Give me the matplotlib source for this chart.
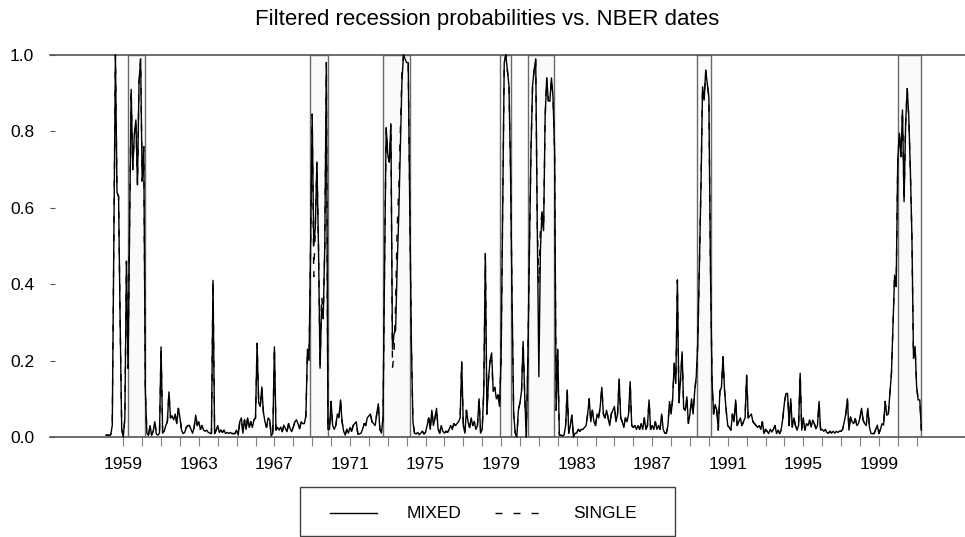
import numpy as np
import matplotlib
matplotlib.use("Agg")
import matplotlib.pyplot as plt
from matplotlib.lines import Line2D
from matplotlib.patches import Rectangle

plt.rcParams['font.family'] = ['Liberation Sans', 'DejaVu Sans']

nan = np.nan

# filtered recession probability, MIXED model, one row per year (Jan..Dec)
mixed_rows = [
    [nan, 0.005, 0.005, 0.004, 0.006, 0.03, 0.5, 1.0, 0.64, 0.63, 0.3, 0.02],                 # 1958
    [0.0, 0.05, 0.46, 0.18, 0.55, 0.91, 0.70, 0.79, 0.83, 0.66, 0.93, 0.99],
    [0.67, 0.76, 0.12, 0.01, 0.005, 0.03, 0.005, 0.015, 0.04, 0.008, 0.005, 0.01],
    [0.236, 0.01, 0.015, 0.03, 0.04, 0.118, 0.05, 0.055, 0.045, 0.06, 0.035, 0.075],
    [0.05, 0.018, 0.009, 0.012, 0.025, 0.03, 0.03, 0.02, 0.01, 0.025, 0.057, 0.03],
    [0.04, 0.02, 0.03, 0.018, 0.015, 0.018, 0.012, 0.01, 0.009, 0.41, 0.009, 0.018],
    [0.03, 0.012, 0.018, 0.012, 0.018, 0.009, 0.012, 0.009, 0.012, 0.009, 0.009, 0.009],
    [0.018, 0.005, 0.04, 0.05, 0.01, 0.045, 0.02, 0.05, 0.025, 0.04, 0.025, 0.045],
    [0.05, 0.245, 0.09, 0.08, 0.131, 0.065, 0.04, 0.025, 0.05, 0.045, 0.003, 0.01],
    [0.236, 0.018, 0.025, 0.018, 0.026, 0.014, 0.031, 0.022, 0.014, 0.035, 0.022, 0.014],
    [0.026, 0.04, 0.045, 0.035, 0.022, 0.04, 0.035, 0.035, 0.055, 0.23, 0.2, 0.5],          # 1968
    [0.845, 0.5, 0.55, 0.72, 0.5, 0.18, 0.34, 0.31, 0.5, 0.98, 0.02, 0.02],
    [0.093, 0.03, 0.02, 0.03, 0.06, 0.05, 0.097, 0.04, 0.015, 0.005, 0.02, 0.01],
    [0.025, 0.015, 0.03, 0.035, 0.04, 0.008, 0.008, 0.01, 0.02, 0.035, 0.03, 0.05],
    [0.055, 0.06, 0.04, 0.035, 0.03, 0.06, 0.087, 0.02, 0.01, 0.05, 0.45, 0.81],
    [0.74, 0.72, 0.82, 0.23, 0.27, 0.28, 0.45, 0.58, 0.75, 0.93, 1.0, 0.99],
    [0.98, 0.98, 0.6, 0.25, 0.04, 0.01, 0.008, 0.012, 0.006, 0.01, 0.015, 0.008],
    [0.012, 0.03, 0.05, 0.02, 0.07, 0.03, 0.05, 0.075, 0.02, 0.01, 0.03, 0.015],
    [0.01, 0.015, 0.012, 0.02, 0.03, 0.02, 0.035, 0.03, 0.035, 0.04, 0.05, 0.197],
    [0.03, 0.01, 0.07, 0.04, 0.025, 0.05, 0.03, 0.04, 0.02, 0.03, 0.1, 0.01],
    [0.02, 0.12, 0.48, 0.06, 0.15, 0.2, 0.22, 0.12, 0.13, 0.10, 0.11, 0.08],                # 1978
    [0.2, 0.6, 0.98, 1.0, 0.96, 0.92, 0.7, 0.35, 0.06, 0.01, 0.0, 0.07],
    [0.09, 0.12, 0.25, 0.11, 0.0, 0.2, 0.49, 0.75, 0.92, 0.96, 0.99, 0.55],
    [0.158, 0.49, 0.59, 0.54, 0.84, 0.94, 0.88, 0.88, 0.94, 0.89, 0.75, 0.07],
    [0.23, 0.005, 0.005, 0.003, 0.005, 0.03, 0.123, 0.01, 0.03, 0.057, 0.0, 0.01],
    [0.01, 0.02, 0.015, 0.02, 0.02, 0.025, 0.03, 0.06, 0.1, 0.04, 0.07, 0.04],
    [0.03, 0.06, 0.05, 0.08, 0.13, 0.06, 0.05, 0.07, 0.05, 0.03, 0.06, 0.07],
    [0.08, 0.04, 0.06, 0.152, 0.05, 0.04, 0.025, 0.05, 0.04, 0.06, 0.145, 0.03],
    [0.025, 0.03, 0.02, 0.03, 0.02, 0.035, 0.02, 0.05, 0.02, 0.03, 0.097, 0.02],
    [0.03, 0.02, 0.04, 0.02, 0.03, 0.02, 0.06, 0.02, 0.01, 0.01, 0.03, 0.093],
    [0.06, 0.1, 0.193, 0.14, 0.411, 0.09, 0.15, 0.223, 0.075, 0.07, 0.105, 0.036],         # 1988
    [0.06, 0.1, 0.06, 0.12, 0.158, 0.25, 0.45, 0.66, 0.917, 0.882, 0.96, 0.926],
    [0.89, 0.446, 0.15, 0.06, 0.085, 0.07, 0.018, 0.12, 0.13, 0.21, 0.12, 0.07],
    [0.03, 0.025, 0.018, 0.06, 0.04, 0.097, 0.03, 0.04, 0.05, 0.03, 0.04, 0.05],
    [0.162, 0.05, 0.055, 0.06, 0.04, 0.035, 0.03, 0.025, 0.03, 0.02, 0.04, 0.009],
    [0.02, 0.015, 0.009, 0.02, 0.013, 0.02, 0.03, 0.009, 0.018, 0.009, 0.02, 0.05],
    [0.09, 0.114, 0.114, 0.03, 0.1, 0.026, 0.05, 0.03, 0.018, 0.03, 0.167, 0.018],
    [0.05, 0.018, 0.035, 0.03, 0.044, 0.026, 0.044, 0.035, 0.022, 0.03, 0.093, 0.018],
    [0.02, 0.015, 0.02, 0.012, 0.01, 0.015, 0.01, 0.015, 0.01, 0.015, 0.012, 0.015],
    [0.015, 0.02, 0.04, 0.06, 0.1, 0.018, 0.053, 0.04, 0.035, 0.048, 0.03, 0.035],
    [0.05, 0.075, 0.044, 0.035, 0.03, 0.075, 0.026, 0.009, 0.009, 0.009, 0.02, 0.031],     # 1998
    [0.009, 0.02, 0.035, 0.031, 0.093, 0.057, 0.06, 0.114, 0.167, 0.3, 0.424, 0.394],
    [0.725, 0.795, 0.734, 0.856, 0.616, 0.82, 0.912, 0.838, 0.7, 0.524, 0.206, 0.237],
    [0.131, 0.097, 0.097, 0.018],                                                          # 2001
]

# months (index from Jan 1958) where the SINGLE model differs from MIXED
single_changes = {133: 0.42, 138: 0.37, 183: 0.18, 184: 0.22, 185: 0.35, 186: 0.55,
                  187: 0.65, 188: 0.8, 189: 0.95, 246: 0.2, 276: 0.40, 277: 0.55}

# NBER recession bands, as drawn on the chart's year scale
rec_start = [1959.23, 1968.88, 1972.76, 1978.93, 1980.41, 1989.39, 2000.03]
rec_end = [1960.15, 1969.85, 1974.19, 1979.51, 1981.82, 1990.13, 2001.23]

year_labels = list(range(1959, 2000, 4))
year_minor = list(range(1959, 2002))
y_ticks = [0.0, 0.2, 0.4, 0.6, 0.8, 1.0]

mixed = np.array([v for row in mixed_rows for v in row])
single = mixed.copy()
for k, v in single_changes.items():
    single[k] = v
t = 1958 + np.arange(len(mixed)) / 12

W, H = 965, 537
fig = plt.figure(figsize=(W / 100, H / 100), dpi=100)
ax = fig.add_axes([50 / W, (H - 437) / H, 915 / W, 382 / H])
ax.set_xlim(1955.12, 2003.56)
ax.set_ylim(0, 1)

for s, e in zip(rec_start, rec_end):
    ax.axvspan(s, e, ymin=0, ymax=1, facecolor='#fafafa', edgecolor='#6a6a6a', lw=1.0, zorder=1)

ax.plot(t, single, color='black', lw=1.0, ls=(0, (5, 8)), clip_on=False, zorder=3)
ax.plot(t, mixed, color='black', lw=1.0, clip_on=False, zorder=3)

for side in ['left', 'right']:
    ax.spines[side].set_visible(False)
for side in ['top', 'bottom']:
    ax.spines[side].set_color('#555555')
    ax.spines[side].set_linewidth(1.2)

ax.set_xticks(year_labels)
ax.set_xticklabels([str(y) for y in year_labels])
ax.set_xticks(year_minor, minor=True)
ax.tick_params(axis='x', which='both', direction='out', length=6.5, width=0.8,
               color='#808080', pad=8, labelsize=12.5)
ax.set_yticks(y_ticks)
ax.set_yticklabels(['%.1f' % v for v in y_ticks])
ax.tick_params(axis='y', direction='in', length=3.6, width=0.8, color='#555555',
               pad=11.5, labelsize=12.5)

fig.text(487 / W, 1 - 20 / H, 'Filtered recession probabilities vs. NBER dates',
         ha='center', va='center', fontsize=16)

# legend box
fig.patches.append(Rectangle((299.5 / W, 1 / H), 375 / W, 49.5 / H, transform=fig.transFigure,
                             facecolor='white', edgecolor='#404040', lw=1.0))
ly = 1 - 513 / H
fig.lines.append(Line2D([330 / W, 377 / W], [ly, ly], transform=fig.transFigure,
                        color='black', lw=1.0))
fig.text(406.5 / W, ly, 'MIXED', ha='left', va='center', fontsize=12.5)
fig.lines.append(Line2D([495 / W, 542 / W], [ly, ly], transform=fig.transFigure,
                        color='black', lw=1.0, ls=(0, (5, 8))))
fig.text(573 / W, ly, 'SINGLE', ha='left', va='center', fontsize=12.5)

fig.savefig('out.png', dpi=100)
